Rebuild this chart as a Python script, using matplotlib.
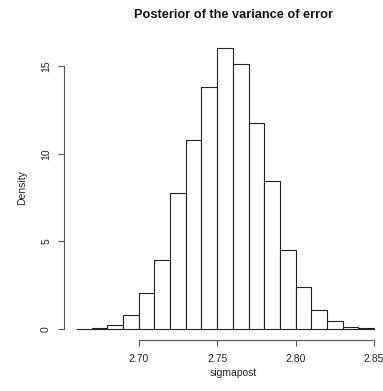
import matplotlib
matplotlib.use("Agg")
import matplotlib.pyplot as plt
import numpy as np

plt.rcParams['font.family'] = ['Liberation Sans', 'DejaVu Sans']

# Histogram of posterior draws of sigma (density scale)
bin_edges = np.round(np.arange(2.66, 2.8501, 0.01), 2)
density = [0.01, 0.06, 0.21, 0.76, 2.02, 3.92, 7.78, 10.76, 13.84, 16.03,
           15.15, 11.75, 8.46, 4.52, 2.36, 1.10, 0.44, 0.13, 0.04]
x_ticks = [2.70, 2.75, 2.80, 2.85]
x_tick_labels = ["2.70", "2.75", "2.80", "2.85"]
y_ticks = [0, 5, 10, 15]

W, H = 383, 391
fig = plt.figure(figsize=(W / 100, H / 100), dpi=100)
ax = fig.add_axes([64 / W, (H - 340) / H, 322 / W, 303 / H])
ax.set_facecolor('none')

widths = np.diff(bin_edges)
ax.bar(bin_edges[:-1], density, width=widths, align='edge',
       facecolor='white', edgecolor='#222222', linewidth=0.8)

span = bin_edges[-1] - bin_edges[0]
ax.set_xlim(bin_edges[0] - 0.04 * span, bin_edges[-1] + 0.04 * span)
top = max(density)
ax.set_ylim(-0.04 * top, 1.04 * top)

for s in ['top', 'right']:
    ax.spines[s].set_visible(False)
for s in ['bottom', 'left']:
    ax.spines[s].set_color('#555555')
    ax.spines[s].set_linewidth(0.8)
ax.spines['bottom'].set_bounds(x_ticks[0], x_ticks[-1])
ax.spines['left'].set_bounds(y_ticks[0], y_ticks[-1])

ax.set_xticks(x_ticks)
ax.set_xticklabels(x_tick_labels)
ax.set_yticks(y_ticks)
ax.set_yticklabels([str(v) for v in y_ticks], rotation=90, va='center')
ax.tick_params(axis='both', direction='out', length=4.3, width=0.8,
               color='#555555', labelsize=7.5, labelcolor='#222222')
ax.tick_params(axis='x', pad=5.5)
ax.tick_params(axis='y', pad=5.0)

fig.text(233.5 / W, 1 - 15 / H, "Posterior of the variance of error",
         ha='center', va='center', fontsize=9.2, fontweight='bold', color='#111111')
fig.text(233 / W, 1 - 373 / H, "sigmapost", ha='center', va='center',
         fontsize=7.5, color='#222222')
fig.text(22 / W, 1 - 188 / H, "Density", ha='center', va='center',
         rotation=90, fontsize=7.5, color='#222222')

fig.savefig("out.png", dpi=100)
